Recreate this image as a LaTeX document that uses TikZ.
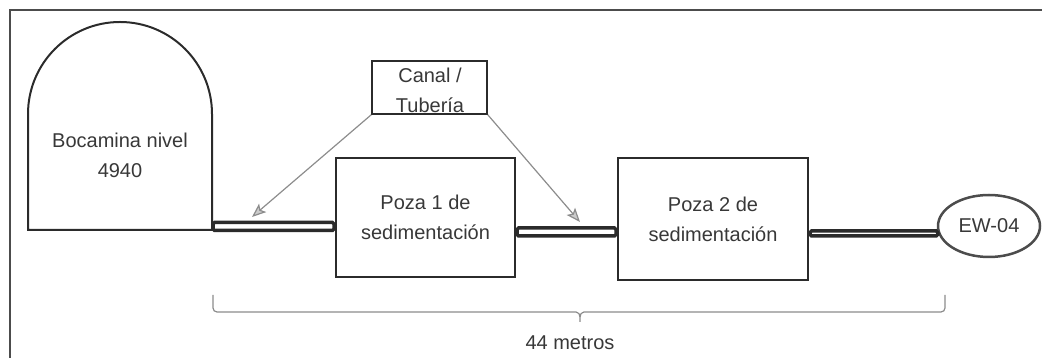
\documentclass[tikz,border=0pt]{standalone}
\usepackage{fontspec}
\setmainfont{Liberation Sans}
\usetikzlibrary{arrows.meta,calc,shapes.geometric}
\definecolor{ink}{HTML}{2B2B2B}
\definecolor{txt}{HTML}{383838}
\definecolor{arr}{HTML}{8C8C8C}
\begin{document}
\begin{tikzpicture}[x=1pt,y=1pt,
  every node/.style={text=txt,font=\fontsize{20}{30}\selectfont},
  boxst/.style={draw=ink,line width=2pt,rectangle,inner sep=0pt,align=center},
  pipe/.style={draw=ink,line width=3.5pt,fill=white,rounded corners=1.5pt},
  pointer/.style={draw=arr,line width=1.2pt,-{Stealth[length=14pt,width=11pt,inset=3pt,fill=arr!45]}},
  bracest/.style={draw=black!45,line width=1.2pt},
  framest/.style={draw=black!70,line width=2pt}]
\useasboundingbox (0,0) rectangle (1042,358);
% frame (right and bottom edges outside the picture)
\draw[framest] (10,-5) -- (10,348) -- (1050,348);
% bocamina
\draw[draw=ink,line width=2pt] (28,128) -- (28,244) arc[start angle=180,end angle=0,radius=92] -- (212,128) -- cycle;
\node[align=center] (boca) at (120,203) {Bocamina nivel\\4940};
\coordinate (bocaR) at (213,131.5);
% pozas
\node[boxst,minimum width=179pt,minimum height=119pt] (poza1) at (425.5,140.5) {Poza 1 de\\sedimentación};
\node[boxst,minimum width=190pt,minimum height=122pt] (poza2) at (713,139) {Poza 2 de\\sedimentación};
% EW-04
\node[ellipse,draw=black!70,line width=2.5pt,minimum width=102pt,minimum height=62pt,inner sep=0pt] (ew) at (989,132) {EW-04};
% canal box
\node[boxst,line width=1.6pt,minimum width=115pt,minimum height=53pt] (canal) at (429.5,270.5) {};
\node[align=center] (canaltxt) at (430,268) {Canal /\\Tubería};
% pipes
\draw[pipe] ($(bocaR)+(0,-4)$) rectangle ($(poza1.west |- bocaR)+(-1,4)$);
\coordinate (p2) at ($(poza1.south east)+(1,46)$);
\draw[pipe] ($(p2)+(0,-4)$) rectangle ($(poza2.west |- p2)+(-1,4)$);
\coordinate (p3) at ($(poza2.south east)+(1,49)$);
\coordinate (p3e) at ($(ew.west)+(1,-1)$);
\draw[pipe] ($(p3)+(0,-4)$) rectangle ($(p3e)+(0,-4)$);
% pointers
\coordinate (t1) at (252,141);
\coordinate (t2) at (580,136);
\draw[pointer] (canal.south west) -- (t1);
\draw[pointer] (canal.south east) -- (t2);
% brace
\coordinate (bL) at (213,63);
\coordinate (bM) at (580,36);
\coordinate (bR) at (945,63);
\draw[bracest] (bL) -- ++(0,-13) to[out=-90,in=180] ++(4,-4) -- ($(bM)+(-4,10)$) to[out=0,in=90] ($(bM)+(0,5)$) -- (bM);
\draw[bracest] ($(bM)+(0,5)$) to[out=90,in=180] ($(bM)+(4,10)$) -- ($(bR)+(-4,-17)$) to[out=0,in=-90] ($(bR)+(0,-13)$) -- (bR);
\node[anchor=base] (dist) at (570,8) {44 metros};
\end{tikzpicture}
\end{document}
